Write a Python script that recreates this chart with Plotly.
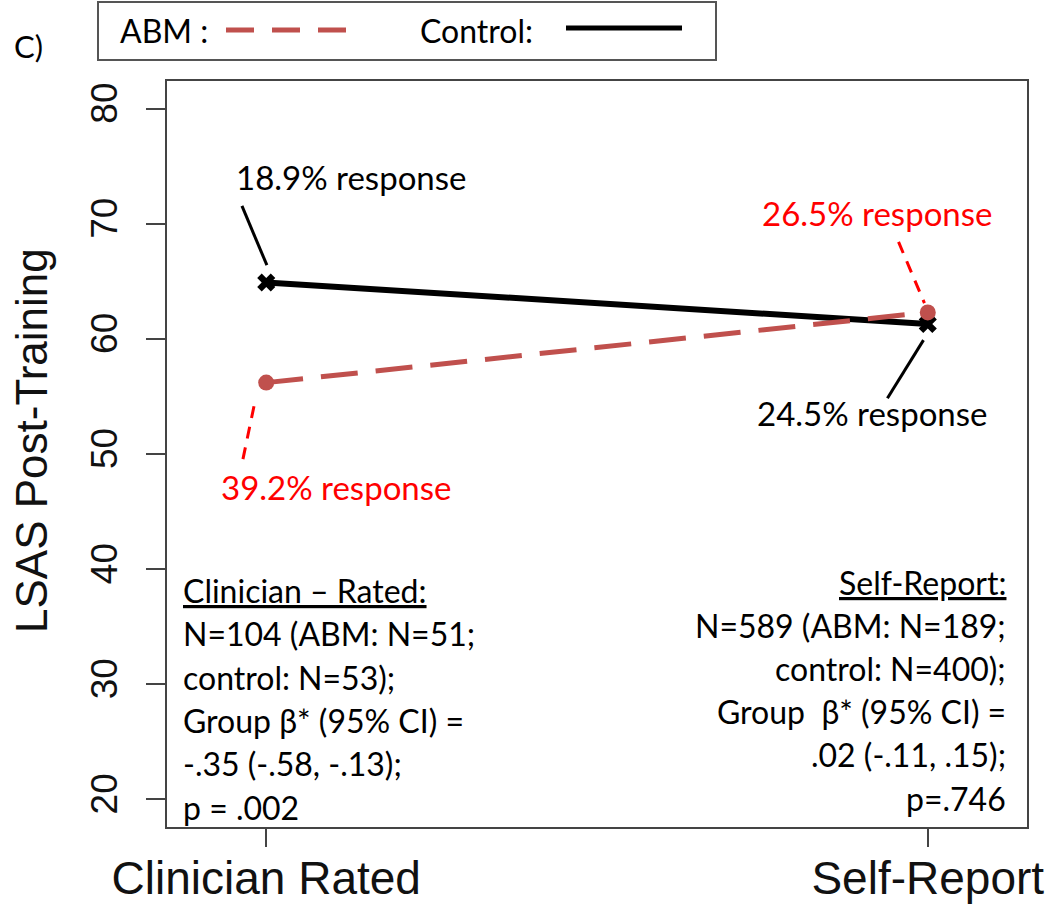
import plotly.graph_objects as go

# ---------------- data ----------------
conditions = ["Clinician Rated", "Self-Report"]
x_pos = [1, 2]
abm_lsas = [56.2, 62.3]
control_lsas = [64.9, 61.3]
abm_response = ["39.2% response", "26.5% response"]
control_response = ["18.9% response", "24.5% response"]
y_ticks = [20, 30, 40, 50, 60, 70, 80]

clin_stats = [
    "<span style='text-decoration:underline'>Clinician \u2013 Rated:</span>",
    "N=104 (ABM: N=51;",
    "control: N=53);",
    "Group \u03b2* (95% CI) =",
    "-.35 (-.58, -.13);",
    "p = .002",
]
self_stats = [
    "<span style='text-decoration:underline'>Self-Report:</span>",
    "N=589 (ABM: N=189;",
    "control: N=400);",
    "Group  \u03b2* (95% CI) =",
    ".02 (-.11, .15);",
    "p=.746",
]

# ---------------- style ----------------
W, H = 1050, 908
ML, MR, MT, MB = 167, 23, 81, 81
ABM_COLOR = "#C0504D"
RED_TXT = "#FF0000"
AX_COLOR = "#444444"
TXT_FONT = "Lato"
AX_FONT = "Liberation Sans"


def px_x(p):
    return (p - ML) / (W - ML - MR)


def px_y(p):
    return (H - MB - p) / (H - MT - MB)


fig = go.Figure()

fig.add_trace(go.Scatter(
    x=x_pos, y=control_lsas, mode="lines+markers", name="Control",
    line=dict(color="black", width=6),
    marker=dict(symbol="x", size=16, color="black"),
    showlegend=False,
))
fig.add_trace(go.Scatter(
    x=x_pos, y=abm_lsas, mode="lines+markers", name="ABM",
    line=dict(color=ABM_COLOR, width=5, dash="37px,18px"),
    marker=dict(symbol="circle", size=16, color=ABM_COLOR),
    showlegend=False,
))

annotations = []
shapes = []

# response labels: (text, text x, text y, colour, leader start offset, leader end offset, dashed)
points = [
    (x_pos[0], control_lsas[0]),
    (x_pos[0], abm_lsas[0]),
    (x_pos[1], abm_lsas[1]),
    (x_pos[1], control_lsas[1]),
]
resp_specs = [
    (control_response[0], 0.129, 9.16, "black", (-0.0367, 6.65), (0.001, 1.5), False),
    (abm_response[0], 0.106, -9.05, RED_TXT, (-0.0352, -6.64), (-0.0166, -1.52), True),
    (abm_response[1], -0.076, 8.61, RED_TXT, (-0.0442, 6.12), (-0.005, 0.8), True),
    (control_response[1], -0.0835, -7.75, "black", (-0.061, -6.45), (-0.0065, -1.41), False),
]
for (bx, by), (txt, dx, dy, col, s, e, dashed) in zip(points, resp_specs):
    annotations.append(dict(
        x=bx + dx, y=by + dy, xref="x", yref="y", text=txt, showarrow=False,
        font=dict(family=TXT_FONT, size=33, color=col),
        xanchor="center", yanchor="middle",
    ))
    shapes.append(dict(
        type="line", xref="x", yref="y",
        x0=bx + s[0], y0=by + s[1], x1=bx + e[0], y1=by + e[1],
        line=dict(color="#FF0000" if dashed else "black", width=3,
                  dash="12px,9px" if dashed else "solid"),
    ))

# stats blocks
left_y = [590, 633.5, 677, 720, 763.5, 807]
right_y = [582, 625, 668, 711, 754.5, 798]
for t, yy in zip(clin_stats, left_y):
    annotations.append(dict(
        x=px_x(181), y=px_y(yy), xref="paper", yref="paper", text=t,
        showarrow=False, xanchor="left", yanchor="middle",
        font=dict(family=TXT_FONT, size=32, color="black"),
    ))
for t, yy in zip(self_stats, right_y):
    annotations.append(dict(
        x=px_x(1008), y=px_y(yy), xref="paper", yref="paper", text=t,
        showarrow=False, xanchor="right", yanchor="middle",
        font=dict(family=TXT_FONT, size=32, color="black"),
    ))

# y-axis title
annotations.append(dict(
    x=px_x(31), y=px_y(441), xref="paper", yref="paper",
    text="LSAS Post-Training", textangle=-90, showarrow=False,
    xanchor="center", yanchor="middle",
    font=dict(family=AX_FONT, size=44, color="#111111"),
))

# panel label
annotations.append(dict(
    x=px_x(28), y=px_y(46), xref="paper", yref="paper", text="C)",
    showarrow=False, xanchor="center", yanchor="middle",
    font=dict(family=TXT_FONT, size=31, color="black"),
))

# custom legend box
shapes.append(dict(
    type="rect", xref="paper", yref="paper",
    x0=px_x(98), x1=px_x(716), y0=px_y(2), y1=px_y(60),
    line=dict(color="#555555", width=2), fillcolor="white", layer="above",
))
annotations.append(dict(
    x=px_x(118), y=px_y(30), xref="paper", yref="paper", text="ABM :",
    showarrow=False, xanchor="left", yanchor="middle",
    font=dict(family=TXT_FONT, size=32, color="black"),
))
annotations.append(dict(
    x=px_x(418), y=px_y(30), xref="paper", yref="paper", text="Control:",
    showarrow=False, xanchor="left", yanchor="middle",
    font=dict(family=TXT_FONT, size=32, color="black"),
))
shapes.append(dict(
    type="line", xref="paper", yref="paper",
    x0=px_x(226), x1=px_x(346), y0=px_y(30), y1=px_y(30),
    line=dict(color=ABM_COLOR, width=5, dash="28px,18px"), layer="above",
))
shapes.append(dict(
    type="line", xref="paper", yref="paper",
    x0=px_x(566), x1=px_x(682), y0=px_y(28), y1=px_y(28),
    line=dict(color="black", width=5), layer="above",
))

fig.update_layout(
    width=W, height=H,
    margin=dict(l=ML, r=MR, t=MT, b=MB, autoexpand=False),
    paper_bgcolor="white", plot_bgcolor="white",
    annotations=annotations, shapes=shapes,
    showlegend=False,
    xaxis=dict(
        range=[0.85, 2.15], tickvals=x_pos, ticktext=conditions,
        showgrid=False, zeroline=False,
        showline=True, mirror=True, linecolor=AX_COLOR, linewidth=2,
        ticks="outside", ticklen=18, tickwidth=2, tickcolor=AX_COLOR,
        tickfont=dict(family=AX_FONT, size=46, color="#111111"),
        ticklabelstandoff=-8,
    ),
    yaxis=dict(
        range=[17.6, 82.4], tickvals=y_ticks,
        showgrid=False, zeroline=False,
        showline=True, mirror=True, linecolor=AX_COLOR, linewidth=2,
        ticks="outside", ticklen=19, tickwidth=2, tickcolor=AX_COLOR,
        tickangle=-90, ticklabelstandoff=14,
        tickfont=dict(family=AX_FONT, size=37, color="#111111"),
    ),
)

fig.write_html(
    "out.html",
    config={"displayModeBar": False},
    post_script="document.body.style.margin='0';document.body.style.overflow='hidden';",
)
